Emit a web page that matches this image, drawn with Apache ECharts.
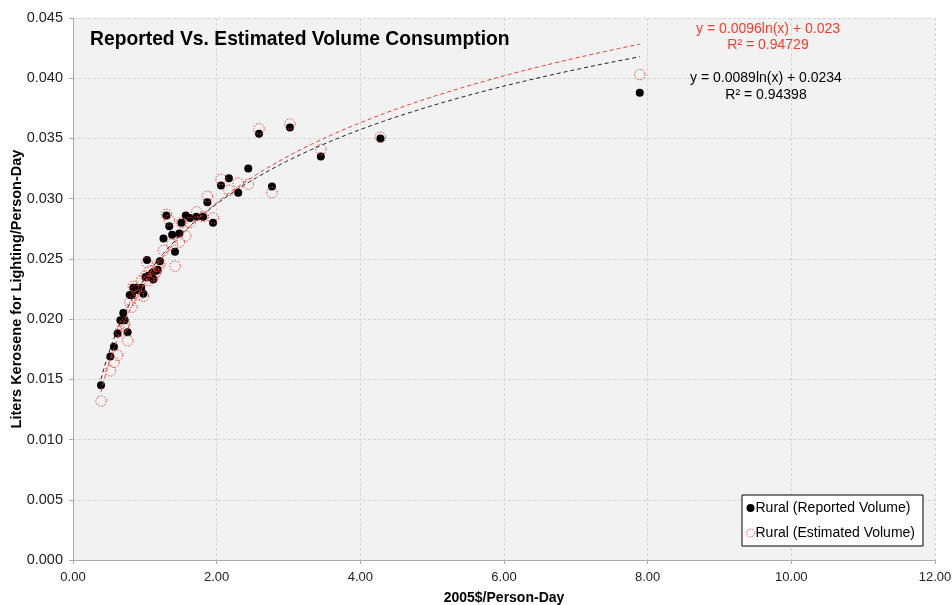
<!DOCTYPE html>
<html>
<head>
<meta charset="utf-8">
<script src="https://cdn.jsdelivr.net/npm/echarts@6/dist/echarts.min.js"></script>
<style>
  html, body { margin: 0; padding: 0; background: #ffffff; }
  #chart { width: 952px; height: 605px; }
</style>
</head>
<body>
<div id="chart"></div>
<script>
// Income per person-day (2005$) for each rural group
const incomeX = [0.39, 0.52, 0.57, 0.62, 0.66, 0.70, 0.72, 0.76, 0.79, 0.82,
                 0.84, 0.88, 0.91, 0.95, 0.98, 1.01, 1.03, 1.05, 1.07, 1.10,
                 1.12, 1.15, 1.18, 1.21, 1.26, 1.30, 1.34, 1.38, 1.42, 1.48,
                 1.51, 1.57, 1.63, 1.72, 1.81, 1.87, 1.95, 2.06, 2.17, 2.30,
                 2.44, 2.59, 2.77, 3.02, 3.45, 4.28, 7.89];
// Reported kerosene volume (L/person-day)
const reportedY = [0.0145, 0.0169, 0.0177, 0.0188, 0.0199, 0.0205, 0.0199, 0.0189, 0.0220, 0.0220,
                   0.0226, 0.0226, 0.0224, 0.0226, 0.0221, 0.0235, 0.0249, 0.0236, 0.0235, 0.0238,
                   0.0233, 0.0240, 0.0241, 0.0248, 0.0267, 0.0286, 0.0277, 0.0270, 0.0256, 0.0271,
                   0.0280, 0.0286, 0.0284, 0.0285, 0.0285, 0.0297, 0.0280, 0.0311, 0.0317, 0.0305,
                   0.0325, 0.0354, 0.0310, 0.0359, 0.0335, 0.0350, 0.0388];
// Estimated kerosene volume (L/person-day)
const estimatedY = [0.0132, 0.0157, 0.0164, 0.0170, 0.0190, 0.0194, 0.0196, 0.0182, 0.0214, 0.0210,
                    0.0227, 0.0224, 0.0220, 0.0232, 0.0219, 0.0236, 0.0247, 0.0232, 0.0240, 0.0234,
                    0.0236, 0.0238, 0.0244, 0.0245, 0.0257, 0.0287, 0.0282, 0.0262, 0.0244, 0.0264,
                    0.0280, 0.0269, 0.0280, 0.0289, 0.0285, 0.0302, 0.0284, 0.0316, 0.0307, 0.0313,
                    0.0312, 0.0358, 0.0305, 0.0362, 0.0341, 0.0351, 0.0403];

// Logarithmic fits y = a*ln(x) + b as given in the labels
const reportedFit = { a: 0.0089, b: 0.0234, r2: '0.94398' };
const estimatedFit = { a: 0.0096, b: 0.023, r2: '0.94729' };
const fitRange = [0.39, 7.89];
const fitSteps = 80;

const seriesNames = ['Rural (Reported Volume)', 'Rural (Estimated Volume)'];
const xTicks = { min: 0, max: 12, interval: 2 };
const yTicks = { min: 0, max: 0.045, interval: 0.005 };

const RED = '#ff3a2a';

function fitLine(fit) {
  const pts = [];
  const [lo, hi] = fitRange;
  for (let i = 0; i <= fitSteps; i++) {
    const x = lo * Math.pow(hi / lo, i / fitSteps);
    pts.push([x, fit.a * Math.log(x) + fit.b]);
  }
  return pts;
}

const reportedPts = incomeX.map((x, i) => [x, reportedY[i]]);
const estimatedPts = incomeX.map((x, i) => [x, estimatedY[i]]);

const chart = echarts.init(document.getElementById('chart'), null, { renderer: 'canvas' });
const font = 'Liberation Sans, Arial, Helvetica, sans-serif';

chart.setOption({
  animation: false,
  backgroundColor: '#ffffff',
  textStyle: { fontFamily: font },
  grid: {
    left: 73, right: 17, top: 18, bottom: 45,
    outerBoundsMode: 'none', containLabel: false,
    show: true, backgroundColor: '#f2f2f2', borderWidth: 0
  },
  title: {
    text: 'Reported Vs. Estimated Volume Consumption',
    left: 85, top: 25,
    textStyle: { fontFamily: font, fontSize: 19.3, fontWeight: 'bold', color: '#000' }
  },
  legend: {
    orient: 'vertical',
    left: 742, top: 495,
    padding: [6, 8, 6, 4],
    itemGap: 11,
    itemWidth: 8, itemHeight: 8,
    backgroundColor: '#ffffff',
    borderColor: '#000000', borderWidth: 1,
    textStyle: { fontFamily: font, fontSize: 14, color: '#000', padding: [0, 0, 0, -4] },
    data: [
      { name: seriesNames[0], icon: 'circle',
        itemStyle: { color: '#000', borderWidth: 0 } },
      { name: seriesNames[1], icon: 'circle',
        itemStyle: { color: 'rgba(0,0,0,0)', borderColor: RED, borderWidth: 1, borderType: 'dotted' } }
    ]
  },
  xAxis: {
    type: 'value',
    min: xTicks.min, max: xTicks.max, interval: xTicks.interval,
    name: '2005$/Person-Day',
    nameLocation: 'middle', nameGap: 31, nameMoveOverlap: false,
    nameTextStyle: { fontFamily: font, fontSize: 14, fontWeight: 'bold', color: '#000' },
    axisLine: { show: true, lineStyle: { color: '#aaaaaa', width: 1 } },
    axisTick: { show: true, length: 4, lineStyle: { color: '#aaaaaa' } },
    axisLabel: { fontFamily: font, fontSize: 13, color: '#222', margin: 11,
                 formatter: v => v.toFixed(2) },
    splitLine: { show: true, lineStyle: { color: '#d6d6d6', type: [3, 2], width: 1 } }
  },
  yAxis: {
    type: 'value',
    min: yTicks.min, max: yTicks.max, interval: yTicks.interval,
    name: 'Liters Kerosene for Lighting/Person-Day',
    nameLocation: 'middle', nameGap: 49, nameMoveOverlap: false,
    nameTextStyle: { fontFamily: font, fontSize: 14.5, fontWeight: 'bold', color: '#000' },
    axisLine: { show: true, lineStyle: { color: '#aaaaaa', width: 1 } },
    axisTick: { show: true, length: 4, lineStyle: { color: '#aaaaaa' } },
    axisLabel: { fontFamily: font, fontSize: 14.5, color: '#222', margin: 10,
                 formatter: v => v.toFixed(3) },
    splitLine: { show: true, lineStyle: { color: '#d6d6d6', type: [3, 2], width: 1 } }
  },
  series: [
    {
      name: seriesNames[0],
      type: 'scatter',
      data: reportedPts,
      symbol: 'circle', symbolSize: 8,
      itemStyle: { color: '#000000', opacity: 1 },
      z: 3
    },
    {
      name: seriesNames[1],
      type: 'scatter',
      data: estimatedPts,
      symbol: 'circle', symbolSize: 10.5,
      itemStyle: { color: 'rgba(0,0,0,0)', borderColor: RED, borderWidth: 1, borderType: [1.5, 1.5], opacity: 1 },
      z: 4
    },
    {
      name: 'reported fit',
      type: 'line',
      data: fitLine(reportedFit),
      showSymbol: false, symbol: 'none',
      lineStyle: { color: '#222222', width: 1, type: [4, 3] },
      z: 5, silent: true
    },
    {
      name: 'estimated fit',
      type: 'line',
      data: fitLine(estimatedFit),
      showSymbol: false, symbol: 'none',
      lineStyle: { color: RED, width: 1, type: [4, 3] },
      z: 5, silent: true
    }
  ],
  graphic: [
    {
      type: 'text', x: 768, y: 21, z: 10,
      style: {
        text: 'y = ' + estimatedFit.a + 'ln(x) + ' + estimatedFit.b + '\nR² = ' + estimatedFit.r2,
        align: 'center', fill: RED, font: '14px ' + font, lineHeight: 16
      }
    },
    {
      type: 'text', x: 766, y: 70, z: 10,
      style: {
        text: 'y = ' + reportedFit.a + 'ln(x) + ' + reportedFit.b + '\nR² = ' + reportedFit.r2,
        align: 'center', fill: '#000', font: '14px ' + font, lineHeight: 17
      }
    }
  ]
});
</script>
</body>
</html>
